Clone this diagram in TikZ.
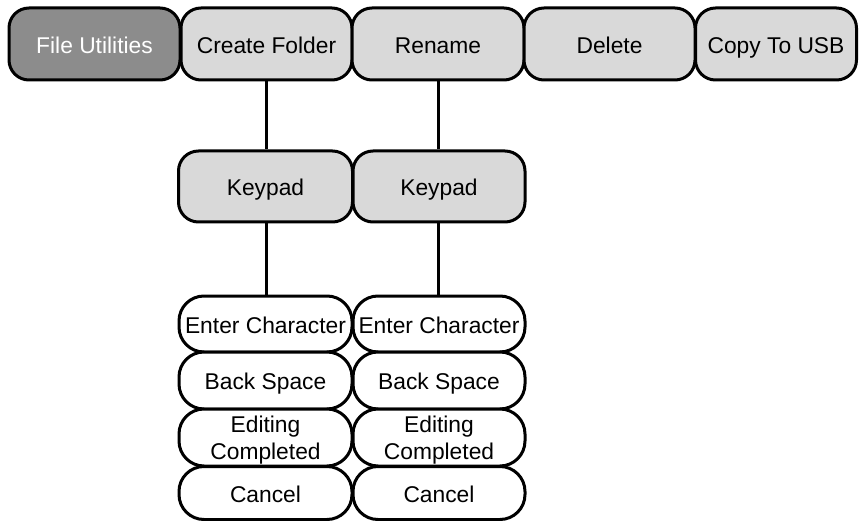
\documentclass[tikz,border=0pt]{standalone}
\usepackage{fontspec}
\setmainfont{Liberation Sans}
\definecolor{lightbox}{HTML}{D9D9D9}
\definecolor{darkbox}{HTML}{8C8C8C}
\begin{document}
\begin{tikzpicture}[x=1pt,y=-1pt,
  base/.style={draw=black, line width=3pt, align=center, inner sep=0pt,
    font=\fontsize{22.8}{27}\selectfont},
  onerow/.style={text height=18.5pt, text depth=0pt},
  tworow/.style={text height=46pt, text depth=1.5pt},
  topbox/.style={base, onerow, rounded corners=20pt, fill=lightbox, minimum height=72pt},
  kpbox/.style={base, onerow, rounded corners=20pt, fill=lightbox, minimum height=71pt},
  itembox/.style={base, rounded corners=25pt, fill=white, minimum width=173pt},
  conn/.style={line width=3pt}]
\useasboundingbox (0,0) rectangle (859,521);
% top row
\node[topbox, fill=darkbox, text=white, minimum width=171pt] (fu) at (94.5,44) {File Utilities};
\node[topbox, minimum width=171pt] (cf) at (266.5,44) {Create Folder};
\node[topbox, minimum width=172pt] (rn) at (438,44) {Rename};
\node[topbox, minimum width=171pt] (dl) at (609.5,44) {Delete};
\node[topbox, minimum width=161pt] (cu) at (776,44) {Copy To USB};
% keypads
\node[kpbox, minimum width=174pt] (kp1) at (265.5,186.5) {Keypad};
\node[kpbox, minimum width=172pt] (kp2) at (439,186.5) {Keypad};
% items column 1
\node[itembox, onerow, minimum height=56pt] (ec1) at (265.5,324) {Enter Character};
\node[itembox, onerow, minimum height=57pt] (bs1) at (265.5,380.5) {Back Space};
\node[itembox, tworow, minimum height=57pt] (ed1) at (265.5,437.5) {Editing\\Completed};
\node[itembox, onerow, minimum height=53pt] (ca1) at (265.5,493) {Cancel};
% items column 2
\node[itembox, onerow, minimum height=56pt, minimum width=172pt] (ec2) at (439,324) {Enter Character};
\node[itembox, onerow, minimum height=57pt, minimum width=172pt] (bs2) at (439,380.5) {Back Space};
\node[itembox, tworow, minimum height=57pt, minimum width=172pt] (ed2) at (439,437.5) {Editing\\Completed};
\node[itembox, onerow, minimum height=53pt, minimum width=172pt] (ca2) at (439,493) {Cancel};
% connectors
\draw[conn] (cf.south) -- (cf.south |- kp1.north);
\draw[conn] (cf.south |- kp1.south) -- (cf.south |- ec1.north);
\draw[conn] (rn.south) -- (rn.south |- kp2.north);
\draw[conn] (rn.south |- kp2.south) -- (rn.south |- ec2.north);
\end{tikzpicture}
\end{document}
